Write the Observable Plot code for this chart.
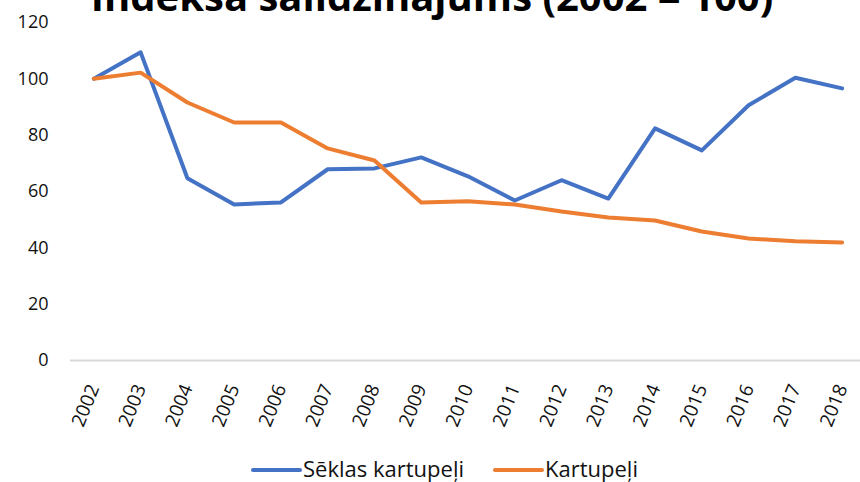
<!DOCTYPE html>
<html>
<head>
<meta charset="utf-8">
<script src="https://cdn.jsdelivr.net/npm/d3@7"></script>
<script src="https://cdn.jsdelivr.net/npm/@observablehq/plot@0.6"></script>
<style>
  html, body { margin: 0; padding: 0; background: #fff; }
  #wrap { position: relative; width: 860px; height: 482px; overflow: hidden; font-family: "Open Sans", sans-serif; }
  #title { position: absolute; left: 0; top: -24px; width: 864px; text-align: center; font-size: 40px; line-height: 40px; font-weight: 700; color: #000; white-space: nowrap; }
  #chart { position: absolute; left: 0; top: 0; }
  #legend { position: absolute; left: 0; top: 445px; }
</style>
</head>
<body>
<div id="wrap">
  <div id="chart"></div>
  <div id="title"></div>
  <svg id="legend" width="860" height="37"></svg>
</div>
<script>
const titleText = "Indeksa salīdzinājums (2002 = 100)";
const years = [2002, 2003, 2004, 2005, 2006, 2007, 2008, 2009, 2010, 2011, 2012, 2013, 2014, 2015, 2016, 2017, 2018];
const seriesNames = ["Sēklas kartupeļi", "Kartupeļi"];
const seriesColors = ["#4472C4", "#ED7D31"];
const seklasKartupeli = [100, 109.4, 64.7, 55.4, 56.1, 67.9, 68.2, 72.1, 65.4, 56.8, 64.0, 57.5, 82.4, 74.6, 90.6, 100.4, 96.6];
const kartupeli = [100, 102.2, 91.6, 84.5, 84.5, 75.3, 71.0, 56.1, 56.5, 55.4, 52.9, 50.8, 49.7, 45.8, 43.3, 42.3, 41.9];
const yTicks = [0, 20, 40, 60, 80, 100, 120];

document.getElementById("title").textContent = titleText;

const data = [];
[seklasKartupeli, kartupeli].forEach((vals, i) => {
  vals.forEach((v, j) => data.push({series: seriesNames[i], year: years[j], value: v}));
});

const chart = Plot.plot({
  width: 860,
  height: 445,
  marginTop: 22,
  marginBottom: 85,
  marginLeft: 70,
  marginRight: 0,
  style: {fontFamily: "Open Sans, sans-serif", fontSize: "18px", color: "#111", background: "transparent"},
  x: {type: "linear", domain: [2001.5, 2018.5], range: [70, 865]},
  y: {domain: [0, 120], range: [360, 22]},
  color: {domain: seriesNames, range: seriesColors},
  marks: [
    Plot.axisY({ticks: yTicks, tickSize: 0, tickPadding: 22, fontSize: 18, tickFormat: d => String(d), label: null}),
    Plot.axisX({ticks: years, tickSize: 0, tickPadding: 25, tickRotate: -68, fontSize: 19, tickFormat: d => String(d), label: null}),
    Plot.ruleY([0], {stroke: "#d9d9d9", strokeWidth: 2}),
    Plot.line(data, {x: "year", y: "value", z: "series", stroke: "series", strokeWidth: 4, strokeLinejoin: "round", strokeLinecap: "round"})
  ]
});
document.getElementById("chart").appendChild(chart);

// legend
const leg = d3.select("#legend");
const legendItems = [
  {name: seriesNames[0], color: seriesColors[0], x0: 253},
  {name: seriesNames[1], color: seriesColors[1], x0: 495}
];
legendItems.forEach(it => {
  leg.append("line").attr("x1", it.x0).attr("x2", it.x0 + 47).attr("y1", 25).attr("y2", 25)
    .attr("stroke", it.color).attr("stroke-width", 4).attr("stroke-linecap", "round");
  leg.append("text").attr("x", it.x0 + 50).attr("y", 32).text(it.name)
    .attr("font-family", "Open Sans, sans-serif").attr("font-size", 22).attr("fill", "#111");
});
</script>
</body>
</html>
